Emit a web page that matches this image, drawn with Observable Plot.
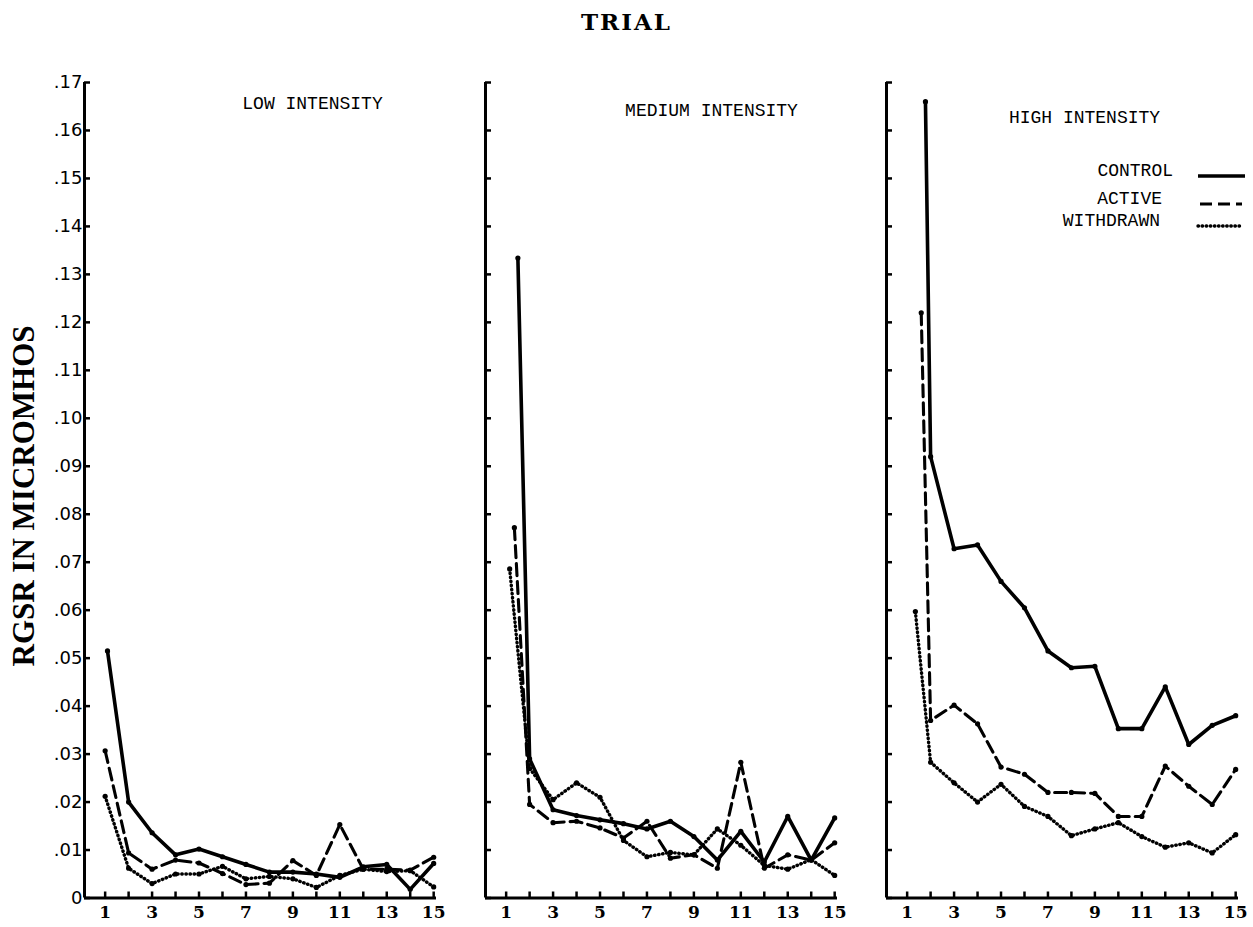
<!DOCTYPE html>
<html>
<head>
<meta charset="utf-8">
<script src="https://cdn.jsdelivr.net/npm/d3@7"></script>
<script src="https://cdn.jsdelivr.net/npm/@observablehq/plot@0.6"></script>
<style>
  html, body { margin: 0; padding: 0; background: #fff; }
  body { width: 1253px; height: 927px; position: relative; overflow: hidden; color: #000; }
  #title { position: absolute; left: 0; top: 8px; width: 1253px; text-align: center;
           font: bold 23px "DejaVu Serif", serif; letter-spacing: 2px; }
  #chart { position: absolute; left: 0; top: 45px; }
  #ylabel { position: absolute; left: 24px; top: 496px; transform: translate(-50%, -50%) rotate(-90deg);
            font: bold 31px "Liberation Serif", serif; white-space: nowrap; }
  .leg { position: absolute; font: 18px "Liberation Mono", monospace; white-space: nowrap; }
  .legsvg { position: absolute; }
</style>
</head>
<body>
<div id="title">TRIAL</div>
<div id="chart"></div>
<div id="ylabel">RGSR IN MICROMHOS</div>
<div id="legend"></div>
<script>
// ---------------- data ----------------
const panels = ["LOW INTENSITY", "MEDIUM INTENSITY", "HIGH INTENSITY"];
const seriesNames = ["CONTROL", "ACTIVE", "WITHDRAWN"];
const trials = [1, 2, 3, 4, 5, 6, 7, 8, 9, 10, 11, 12, 13, 14, 15];

const lowControl   = [0.0515, 0.0200, 0.0136, 0.0090, 0.0102, 0.0086, 0.0070, 0.0054, 0.0054, 0.0050, 0.0043, 0.0065, 0.0070, 0.0018, 0.0072];
const lowActive    = [0.0307, 0.0094, 0.0060, 0.0079, 0.0073, 0.0051, 0.0028, 0.0031, 0.0078, 0.0047, 0.0153, 0.0060, 0.0060, 0.0058, 0.0085];
const lowWithdrawn = [0.0212, 0.0062, 0.0030, 0.0050, 0.0050, 0.0066, 0.0040, 0.0045, 0.0040, 0.0022, 0.0047, 0.0060, 0.0055, 0.0057, 0.0023];

const medControl   = [0.1334, 0.0290, 0.0184, 0.0172, 0.0163, 0.0155, 0.0144, 0.0160, 0.0128, 0.0079, 0.0139, 0.0075, 0.0170, 0.0079, 0.0167];
const medActive    = [0.0772, 0.0195, 0.0157, 0.0160, 0.0146, 0.0125, 0.0160, 0.0083, 0.0090, 0.0062, 0.0283, 0.0062, 0.0090, 0.0079, 0.0115];
const medWithdrawn = [0.0686, 0.0270, 0.0205, 0.0240, 0.0210, 0.0120, 0.0086, 0.0095, 0.0090, 0.0144, 0.0110, 0.0068, 0.0060, 0.0080, 0.0047];

const highControl   = [0.1660, 0.0920, 0.0728, 0.0736, 0.0660, 0.0605, 0.0515, 0.0480, 0.0483, 0.0353, 0.0353, 0.0440, 0.0320, 0.0360, 0.0380];
const highActive    = [0.1220, 0.0370, 0.0402, 0.0363, 0.0273, 0.0258, 0.0220, 0.0220, 0.0218, 0.0170, 0.0170, 0.0275, 0.0233, 0.0195, 0.0268];
const highWithdrawn = [0.0597, 0.0283, 0.0240, 0.0200, 0.0237, 0.0191, 0.0170, 0.0130, 0.0144, 0.0157, 0.0128, 0.0106, 0.0115, 0.0094, 0.0132];

// where the first trial was drawn on each panel (control, active, withdrawn)
const lowFirstX  = [1.1, 1.0, 1.0];
const medFirstX  = [1.5, 1.35, 1.15];
const highFirstX = [1.78, 1.6, 1.35];

const yTicks = [0, 0.01, 0.02, 0.03, 0.04, 0.05, 0.06, 0.07, 0.08, 0.09, 0.10, 0.11, 0.12, 0.13, 0.14, 0.15, 0.16, 0.17];
const yTickLabels = ["0", ".01", ".02", ".03", ".04", ".05", ".06", ".07", ".08", ".09", ".10", ".11", ".12", ".13", ".14", ".15", ".16", ".17"];
const xTicks = [1, 3, 5, 7, 9, 11, 13, 15];
const xTickLabels = ["1", "3", "5", "7", "9", "11", "13", "15"];

// ---------------- table ----------------
const panelSeries = [
  [lowControl, lowActive, lowWithdrawn],
  [medControl, medActive, medWithdrawn],
  [highControl, highActive, highWithdrawn]
];
const panelFirstX = [lowFirstX, medFirstX, highFirstX];
const rows = [];
panels.forEach((p, pi) => {
  seriesNames.forEach((s, si) => {
    panelSeries[pi][si].forEach((v, i) => {
      rows.push({panel: p, series: s, trial: trials[i], x: i === 0 ? panelFirstX[pi][si] : trials[i], value: v});
    });
  });
});

// ---------------- layout / style ----------------
const xDomain = [0.12, 15.12];
const yDomain = [0, 0.17];
const styles = {
  CONTROL:   {strokeWidth: 3.6},
  ACTIVE:    {strokeWidth: 3.1, strokeDasharray: "12,6"},
  WITHDRAWN: {strokeWidth: 3.4, strokeDasharray: "0.5,3.6", strokeLinecap: "round"}
};
const titleDx = [52, 50, 22];
const titleDy = [21, 28, 35];
const yLabelOf = new Map(yTicks.map((t, i) => [Math.round(t * 100), yTickLabels[i]]));
const xLabelOf = new Map(xTicks.map((t, i) => [t, xTickLabels[i]]));

const marks = [
  // axis lines
  Plot.ruleX([xDomain[0]], {y1: yDomain[0], y2: yDomain[1], strokeWidth: 3}),
  Plot.ruleY([yDomain[0]], {x1: xDomain[0], x2: xDomain[1], strokeWidth: 3}),
  // inward y ticks on every panel
  Plot.axisY({ticks: yTicks, tickSize: 6, dx: 6, tickFormat: () => "", label: null, facetAnchor: null, strokeWidth: 2.5}),
  // y tick labels on the first panel
  Plot.axisY({ticks: yTicks, tickSize: 0, tickPadding: 2, tickFormat: d => yLabelOf.get(Math.round(d * 100)),
              label: null, fontSize: 18, fontFamily: "DejaVu Sans"}),
  // upward x ticks
  Plot.axisX({ticks: trials, tickSize: 6, dy: -6, tickFormat: () => "", label: null, strokeWidth: 2.5}),
  // x tick labels
  Plot.axisX({ticks: xTicks, tickSize: 0, tickPadding: 8, tickFormat: d => xLabelOf.get(d), label: null,
              fontSize: 17, fontFamily: "DejaVu Serif", fontWeight: "bold"}),
];

seriesNames.forEach(s => {
  marks.push(Plot.line(rows.filter(d => d.series === s), {
    fx: "panel", x: "x", y: "value", stroke: "black", strokeLinejoin: "round", ...styles[s]
  }));
});
marks.push(Plot.dot(rows, {fx: "panel", x: "x", y: "value", r: 2.6, fill: "black"}));

panels.forEach((p, i) => {
  marks.push(Plot.text([{panel: p}], {
    fx: "panel", text: "panel", frameAnchor: "top", dx: titleDx[i], dy: titleDy[i],
    fontSize: 18, fontFamily: "Liberation Mono", lineAnchor: "middle"
  }));
});

const chart = Plot.plot({
  width: 1253,
  height: 882,
  marginLeft: 84,
  marginRight: 14.5,
  marginTop: 37,
  marginBottom: 29.5,
  x: {domain: xDomain},
  y: {domain: yDomain},
  fx: {domain: panels, paddingInner: 0.121, paddingOuter: 0, axis: null, label: null},
  style: {background: "white", color: "black", overflow: "visible"},
  marks
});
document.getElementById("chart").appendChild(chart);

// ---------------- legend ----------------
const legendTextRight = [1173, 1162, 1160];
const legendTop = [172, 200, 222];
const legendLine = [[1198, 1245], [1200, 1242], [1198, 1243]];
const legend = document.getElementById("legend");
seriesNames.forEach((s, i) => {
  const t = document.createElement("div");
  t.className = "leg";
  t.textContent = s;
  t.style.right = (1253 - legendTextRight[i]) + "px";
  t.style.top = (legendTop[i] - 11) + "px";
  legend.appendChild(t);
  const [x1, x2] = legendLine[i];
  const st = styles[s];
  const svg = d3.create("svg").attr("class", "legsvg").attr("width", x2 - x1 + 4).attr("height", 10)
    .style("left", (x1 - 2) + "px").style("top", (legendTop[i] - 1) + "px");
  svg.append("line").attr("x1", 2).attr("x2", x2 - x1 + 2).attr("y1", 5).attr("y2", 5)
    .attr("stroke", "black").attr("stroke-width", st.strokeWidth)
    .attr("stroke-dasharray", st.strokeDasharray || null)
    .attr("stroke-linecap", st.strokeLinecap || null);
  legend.appendChild(svg.node());
});
</script>
</body>
</html>
